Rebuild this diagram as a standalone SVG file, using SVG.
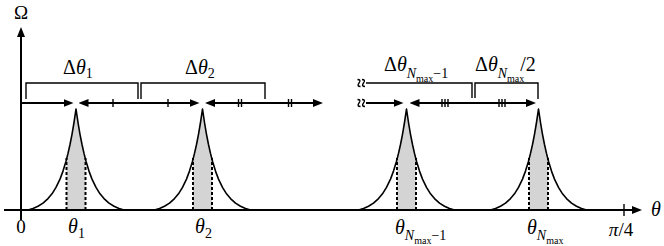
<svg xmlns="http://www.w3.org/2000/svg" xmlns:xlink="http://www.w3.org/1999/xlink" width="664" height="246" viewBox="0 0 664 246">
<style>
  .ax { stroke:#000; stroke-width:2; fill:none; }
  .arr { stroke:#000; stroke-width:2; fill:none; marker-end:url(#ah); }
  .arr2 { stroke:#000; stroke-width:2; fill:none; marker-start:url(#ah); marker-end:url(#ah); }
  .br { stroke:#000; stroke-width:1.4; fill:none; }
  .tk { stroke:#000; stroke-width:1.4; }
  .sq { stroke:#000; stroke-width:1.3; fill:none; }
  .curve { stroke:#000; stroke-width:1.6; fill:none; stroke-linejoin:round; }
  .shade { fill:#d4d4d4; stroke:none; }
  .dash { stroke:#000; stroke-width:2; stroke-dasharray:3 2; }
  .it { font-style:italic; }
  .s1 { font-size:14px; }
  .s2 { font-size:10px; }
</style>
<defs>
  <marker id="ah" viewBox="0 0 10 8" refX="4" refY="4" markerWidth="10" markerHeight="8" markerUnits="userSpaceOnUse" orient="auto-start-reverse">
    <path d="M0,0 L10,4 L0,8 Z" fill="#000"/>
  </marker>
  <path id="shadeShape" class="shade" d="M-9.5,0 L-9.5,-50.6 L-8,-56.6 L-6,-65.5 L-4,-75.7 L-2,-87.5 L0,-101 L2,-87.5 L4,-75.7 L6,-65.5 L8,-56.6 L9.5,-50.6 L9.5,0 Z"/>
  <path id="curveShape" class="curve" d="M-48,0 L-43,-1.6 L-38,-3.8 L-33,-6.9 L-28,-11.4 L-24,-16.2 L-20,-22.6 L-16,-30.9 L-13,-38.9 L-10,-48.8 L-8,-56.6 L-6,-65.5 L-4,-75.7 L-2,-87.5 L0,-101 L2,-87.5 L4,-75.7 L6,-65.5 L8,-56.6 L10,-48.8 L13,-38.9 L16,-30.9 L20,-22.6 L24,-16.2 L28,-11.4 L33,-6.9 L38,-3.8 L43,-1.6 L48,0"/>
  <g id="peakShape">
    <use xlink:href="#shadeShape" href="#shadeShape"/>
    <line class="dash" x1="-9.5" y1="0" x2="-9.5" y2="-52"/>
    <line class="dash" x1="9.5" y1="0" x2="9.5" y2="-52"/>
    <use xlink:href="#curveShape" href="#curveShape"/>
  </g>
  <path id="brk" class="sq" d="M-1.5,-3.5 Q2.5,-3.5 0,0 Q-2.5,3.5 1.5,3.5"/>
</defs>

<g id="peak1" transform="translate(76,210)"><use href="#peakShape" xlink:href="#peakShape"/></g>
<g id="peak2" transform="translate(202.5,210)"><use href="#peakShape" xlink:href="#peakShape"/></g>
<g id="peak3" transform="translate(406.5,210)"><use href="#peakShape" xlink:href="#peakShape"/></g>
<g id="peak4" transform="translate(538.5,210)"><use href="#peakShape" xlink:href="#peakShape"/></g>

<g id="axes">
  <line class="ax" x1="21" y1="220" x2="21" y2="33" marker-end="url(#ah)"/>
  <line class="ax" x1="4" y1="210" x2="636" y2="210" marker-end="url(#ah)"/>
  <line class="tk" x1="624" y1="204" x2="624" y2="216"/>
</g>

<g id="connectors">
  <line class="arr" x1="21" y1="103" x2="67.5" y2="103"/>
  <line class="arr2" x1="84.5" y1="103" x2="193.5" y2="103"/>
  <line class="arr2" x1="211" y1="103" x2="317" y2="103"/>
  <line class="arr" x1="366" y1="103" x2="397.5" y2="103"/>
  <line class="arr2" x1="415.5" y1="103" x2="530" y2="103"/>
  <line class="tk" x1="113" y1="99" x2="113" y2="107"/>
  <line class="tk" x1="168" y1="99" x2="168" y2="107"/>
  <line class="tk" x1="238.5" y1="99" x2="238.5" y2="107"/>
  <line class="tk" x1="241.5" y1="99" x2="241.5" y2="107"/>
  <line class="tk" x1="288.5" y1="99" x2="288.5" y2="107"/>
  <line class="tk" x1="291.5" y1="99" x2="291.5" y2="107"/>
  <line class="tk" x1="442" y1="99" x2="442" y2="107"/>
  <line class="tk" x1="445" y1="99" x2="445" y2="107"/>
  <line class="tk" x1="448" y1="99" x2="448" y2="107"/>
  <line class="tk" x1="499" y1="99" x2="499" y2="107"/>
  <line class="tk" x1="502" y1="99" x2="502" y2="107"/>
  <line class="tk" x1="505" y1="99" x2="505" y2="107"/>
  <polyline class="br" points="26,99 26,83 138,83 138,99"/>
  <polyline class="br" points="141,99 141,83 265,83 265,99"/>
  <polyline class="br" points="366,83 472,83 472,98"/>
  <polyline class="br" points="475,98 475,83 538,83 538,99"/>
  <use href="#brk" xlink:href="#brk" transform="translate(359,83)"/>
  <use href="#brk" xlink:href="#brk" transform="translate(363.5,83)"/>
  <use href="#brk" xlink:href="#brk" transform="translate(359,103)"/>
  <use href="#brk" xlink:href="#brk" transform="translate(363.5,103)"/>
</g>

<g id="labels" font-family="'Liberation Serif', 'Times New Roman', 'DejaVu Serif', serif" font-size="20" fill="#000">
  <text x="14" y="19" font-size="19">Ω</text>
  <text x="63" y="74">Δ<tspan class="it">θ</tspan><tspan class="s1" dy="4">1</tspan></text>
  <text x="185" y="74">Δ<tspan class="it">θ</tspan><tspan class="s1" dy="4">2</tspan></text>
  <text x="384" y="71">Δ<tspan class="it">θ</tspan><tspan class="s1 it" dy="6.5">N</tspan><tspan class="s2" dy="4.5">max</tspan><tspan class="s1" dy="-4.5">−1</tspan></text>
  <text x="475" y="71">Δ<tspan class="it">θ</tspan><tspan class="s1 it" dy="6.5">N</tspan><tspan class="s2" dy="4.5">max</tspan><tspan dx="-4" dy="-11">/2</tspan></text>
  <text x="21" y="233" text-anchor="middle" font-size="19">0</text>
  <text x="68" y="233" class="it">θ</text><text x="78" y="238" class="s1">1</text>
  <text x="195" y="233" class="it">θ</text><text x="205" y="238" class="s1">2</text>
  <text x="395" y="234"><tspan class="it">θ</tspan><tspan class="s1 it" dy="5.5">N</tspan><tspan class="s2" dy="4">max</tspan><tspan class="s1" dy="-4">−1</tspan></text>
  <text x="527" y="234"><tspan class="it">θ</tspan><tspan class="s1 it" dy="5.5">N</tspan><tspan class="s2" dy="4">max</tspan></text>
  <text x="621" y="236" text-anchor="middle" font-size="19"><tspan class="it">π</tspan>/4</text>
  <text x="651" y="216" class="it">θ</text>
</g>
</svg>
